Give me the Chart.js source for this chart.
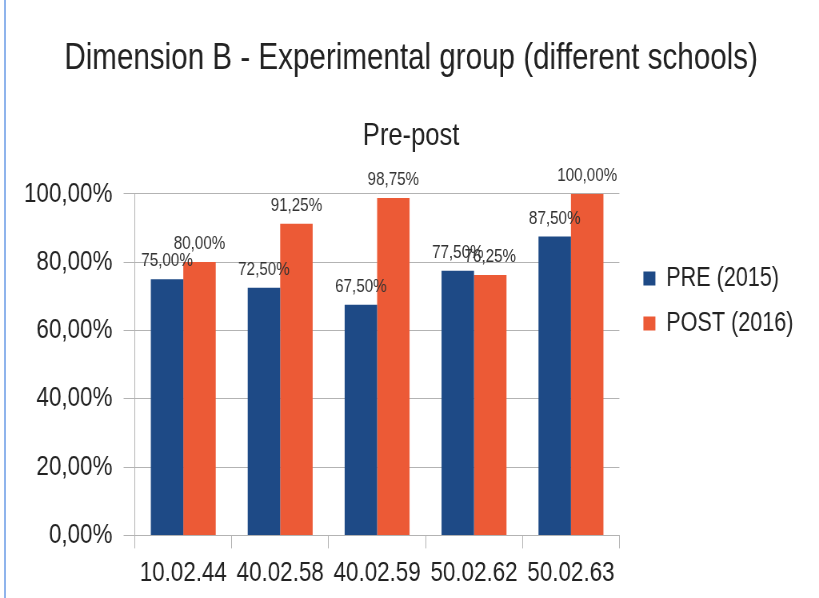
<!DOCTYPE html>
<html>
<head>
<meta charset="utf-8">
<script src="https://cdn.jsdelivr.net/npm/chart.js@4"></script>
<style>
  html, body { margin: 0; padding: 0; background: #fff; overflow: hidden; }
  #wrap { position: relative; width: 819px; height: 598px; }
  #wrap:before { content: ""; position: absolute; left: 4px; top: 0; width: 2px; height: 598px; background: #8fb4ec; }
</style>
</head>
<body>
<div id="wrap"><canvas id="chart" width="1024" height="598" style="width:819px;height:598px"></canvas></div>
<script>
const schools = ["10.02.44", "40.02.58", "40.02.59", "50.02.62", "50.02.63"];
const preValues = [75.00, 72.50, 67.50, 77.50, 87.50];
const postValues = [80.00, 91.25, 98.75, 76.25, 100.00];
const yTicks = [0, 20, 40, 60, 80, 100];

const fmt = v => v.toFixed(2).replace(".", ",") + "%";
const fontName = "'Liberation Sans', Arial, sans-serif";
const gridGrey = "#b3b3b3";

Chart.defaults.font.family = fontName;
Chart.defaults.color = "#333";

// value labels above each bar
const barLabels = {
  id: "barLabels",
  afterDatasetsDraw(chart){
    const ctx = chart.ctx;
    ctx.save();
    ctx.font = "19px " + fontName;
    ctx.fillStyle = "#333";
    ctx.textAlign = "center";
    ctx.textBaseline = "alphabetic";
    chart.data.datasets.forEach((ds, i) => {
      chart.getDatasetMeta(i).data.forEach((bar, j) => {
        ctx.fillText(fmt(ds.data[j]), bar.x, bar.y - 13);
      });
    });
    ctx.restore();
  }
};

// a bit more room between plot frame and legend, titles centred on the whole canvas
const layoutTweaks = {
  id: "layoutTweaks",
  afterLayout(chart){
    const lg = chart.legend;
    const shift = chart.chartArea.right + 12 - lg.left;
    lg.left += shift;
    lg.right += shift;
    chart.boxes.forEach(b => {
      if (b.position === "top" && b !== lg) {
        b.left = 4;
        b.right = chart.width;
      }
    });
  }
};

new Chart(document.getElementById("chart"), {
  type: "bar",
  data: {
    labels: schools,
    datasets: [
      { label: "PRE (2015)", data: preValues, backgroundColor: "#1e4a86" },
      { label: "POST (2016)", data: postValues, backgroundColor: "#ec5a36" }
    ]
  },
  options: {
    responsive: false,
    animation: false,
    layout: { padding: { left: 16, right: 34, top: 37, bottom: 0 } },
    datasets: { bar: { categoryPercentage: 0.67, barPercentage: 1.0 } },
    plugins: {
      title: {
        display: true,
        text: "Dimension B - Experimental group (different schools)",
        color: "#222",
        font: { size: 37, weight: "normal" },
        padding: { top: 0, bottom: 36 }
      },
      subtitle: {
        display: true,
        text: "Pre-post",
        color: "#222",
        font: { size: 32, weight: "normal" },
        padding: { top: 0, bottom: 38 }
      },
      legend: {
        position: "right",
        align: "start",
        title: { display: true, text: " ", font: { size: 10 }, padding: { top: 198, bottom: 0 } },
        labels: {
          boxWidth: 15,
          boxHeight: 14,
          padding: 18,
          color: "#222",
          font: { size: 27 }
        }
      },
      tooltip: { enabled: false }
    },
    scales: {
      x: {
        grid: {
          offset: true,
          // only the right edge of the plot gets a vertical line
          color: c => c.index === schools.length ? gridGrey : "rgba(0,0,0,0)",
          tickColor: gridGrey,
          tickLength: 13
        },
        border: { color: gridGrey },
        ticks: { color: "#222", font: { size: 28 }, padding: 8 }
      },
      y: {
        min: 0,
        max: 100,
        afterBuildTicks: axis => { axis.ticks = yTicks.map(v => ({ value: v })); },
        grid: { color: gridGrey, tickLength: 14 },
        border: { color: gridGrey },
        ticks: { color: "#222", font: { size: 28 }, padding: 14, callback: v => fmt(v) }
      }
    }
  },
  plugins: [barLabels, layoutTweaks]
});
</script>
</body>
</html>
